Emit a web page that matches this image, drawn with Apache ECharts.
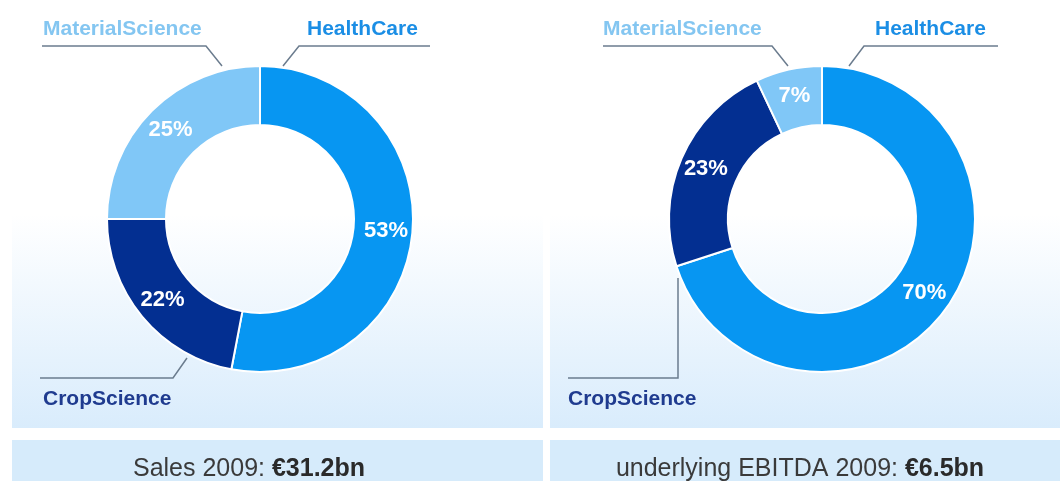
<!DOCTYPE html>
<html>
<head>
<meta charset="utf-8">
<script src="https://cdn.jsdelivr.net/npm/echarts@6/dist/echarts.min.js"></script>
<style>
  html, body { margin: 0; padding: 0; background: #fff; }
  #chart { width: 1060px; height: 481px; }
</style>
</head>
<body>
<div id="chart"></div>
<script>
// data
const segments = ['HealthCare', 'CropScience', 'MaterialScience'];
const salesShare = [53, 22, 25];
const ebitdaShare = [70, 23, 7];
const captionText = ['Sales 2009: ', 'underlying EBITDA 2009: '];
const captionValue = ['€31.2bn', '€6.5bn'];

const sliceColors = ['#0796f2', '#032f91', '#80c7f7'];
const nameColors = ['#1b8ee5', '#1f3b8f', '#84c6f1'];
const centers = [[260, 219], [822, 219]];

// leader line / label placement per donut, per segment
const leaders = [
  [
    { x: 307, y: 29, align: 'left', pts: [[283, 66], [299, 46], [430, 46]] },
    { x: 43, y: 399, align: 'left', pts: [[187, 358], [173, 378], [40, 378]] },
    { x: 43, y: 29, align: 'left', pts: [[222, 66], [206, 46], [42, 46]] }
  ],
  [
    { x: 875, y: 29, align: 'left', pts: [[849, 66], [864, 46], [998, 46]] },
    { x: 568, y: 399, align: 'left', pts: [[678, 278], [678, 378], [568, 378]] },
    { x: 603, y: 29, align: 'left', pts: [[788, 66], [772, 46], [603, 46]] }
  ]
];

const chart = echarts.init(document.getElementById('chart'));

function ringSeries(values, idx) {
  return {
    type: 'pie',
    center: centers[idx],
    radius: [94, 153],
    startAngle: 90,
    clockwise: true,
    avoidLabelOverlap: false,
    silent: true,
    z: 3,
    itemStyle: { borderColor: '#ffffff', borderWidth: 2 },
    label: {
      show: true,
      position: 'inside',
      formatter: '{c}%',
      color: '#ffffff',
      fontFamily: 'Liberation Sans, Arial, sans-serif',
      fontWeight: 'bold',
      fontSize: 22
    },
    labelLine: { show: false },
    emphasis: { disabled: true },
    data: segments.map((name, i) => ({
      name: name,
      value: values[i],
      itemStyle: { color: sliceColors[i] }
    }))
  };
}

function nameSeries(values, idx) {
  return {
    type: 'pie',
    center: centers[idx],
    radius: [94, 153],
    startAngle: 90,
    clockwise: true,
    avoidLabelOverlap: false,
    silent: true,
    z: 2,
    itemStyle: { color: 'rgba(0,0,0,0)', borderWidth: 0 },
    label: {
      show: true,
      position: 'outside',
      formatter: '{b}',
      fontFamily: 'Liberation Sans, Arial, sans-serif',
      fontWeight: 'bold',
      fontSize: 21
    },
    labelLine: {
      show: true,
      smooth: false,
      lineStyle: { color: '#6b7c8e', width: 1.5 }
    },
    labelLayout: function (p) {
      const l = leaders[idx][p.dataIndex];
      return {
        x: l.x,
        y: l.y,
        align: l.align,
        verticalAlign: 'middle',
        labelLinePoints: l.pts
      };
    },
    emphasis: { disabled: true },
    data: segments.map((name, i) => ({
      name: name,
      value: values[i],
      label: { color: nameColors[i] }
    }))
  };
}

const panelGradient = new echarts.graphic.LinearGradient(0, 0, 0, 1, [
  { offset: 0, color: '#ffffff' },
  { offset: 0.5, color: '#ffffff' },
  { offset: 1, color: '#d9ecfc' }
]);

const option = {
  animation: false,
  backgroundColor: '#ffffff',
  graphic: [
    { type: 'rect', z: 0, shape: { x: 12, y: 0, width: 531, height: 428 }, style: { fill: panelGradient } },
    { type: 'rect', z: 0, shape: { x: 550, y: 0, width: 510, height: 428 }, style: { fill: panelGradient } },
    { type: 'rect', z: 0, shape: { x: 12, y: 440, width: 531, height: 41 }, style: { fill: '#d6ebfb' } },
    { type: 'rect', z: 0, shape: { x: 550, y: 440, width: 510, height: 41 }, style: { fill: '#d6ebfb' } }
  ],
  title: [0, 1].map(i => ({
    text: captionText[i] + '{b|' + captionValue[i] + '}',
    left: [244, 795][i],
    top: 452,
    textAlign: 'center',
    textStyle: {
      color: '#3a3a3a',
      fontFamily: 'Liberation Sans, Arial, sans-serif',
      fontWeight: 'normal',
      fontSize: 25,
      rich: {
        b: {
          color: '#2a2a2a',
          fontFamily: 'Liberation Sans, Arial, sans-serif',
          fontWeight: 'bold',
          fontSize: 25
        }
      }
    }
  })),
  series: [
    ringSeries(salesShare, 0),
    nameSeries(salesShare, 0),
    ringSeries(ebitdaShare, 1),
    nameSeries(ebitdaShare, 1)
  ]
};

chart.setOption(option);
</script>
</body>
</html>
